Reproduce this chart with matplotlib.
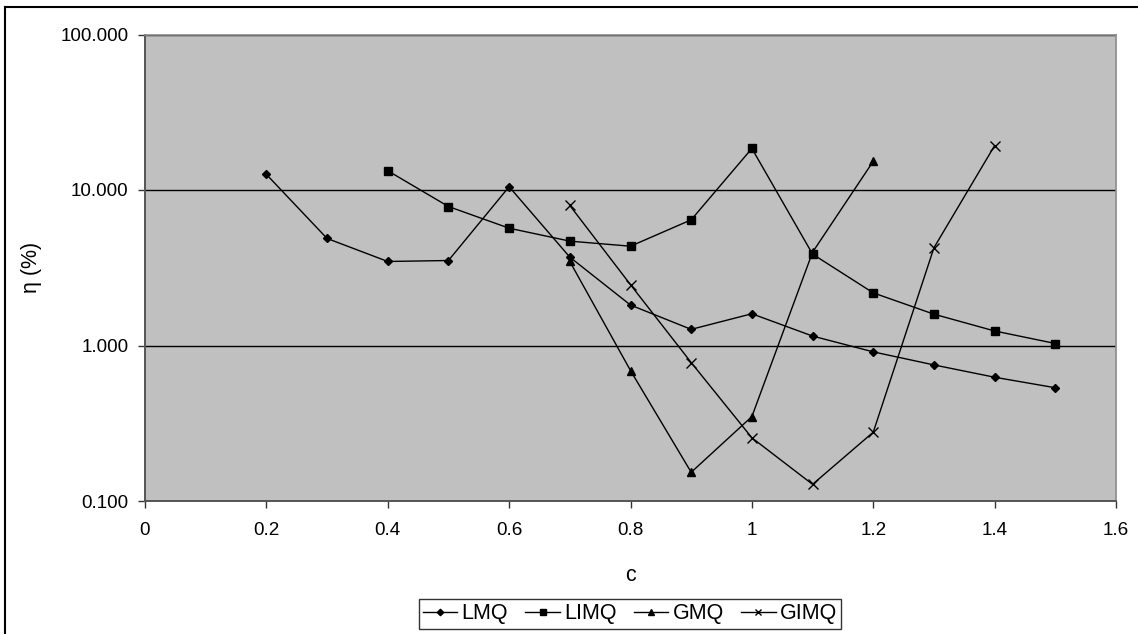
import matplotlib
matplotlib.use("Agg")
import matplotlib.pyplot as plt
from matplotlib.lines import Line2D
from matplotlib.ticker import FixedLocator, FuncFormatter, NullLocator

plt.rcParams['font.family'] = ['Liberation Sans', 'DejaVu Sans']

# Data
c_lmq = [0.2, 0.3, 0.4, 0.5, 0.6, 0.7, 0.8, 0.9, 1.0, 1.1, 1.2, 1.3, 1.4, 1.5]
lmq = [12.6, 4.88, 3.47, 3.52, 10.5, 3.70, 1.82, 1.27, 1.60, 1.15, 0.91, 0.75, 0.625, 0.535]

c_limq = [0.4, 0.5, 0.6, 0.7, 0.8, 0.9, 1.0, 1.1, 1.2, 1.3, 1.4, 1.5]
limq = [13.3, 7.83, 5.68, 4.69, 4.35, 6.43, 18.5, 3.87, 2.18, 1.59, 1.24, 1.03]

c_gmq = [0.7, 0.8, 0.9, 1.0, 1.1, 1.2]
gmq = [3.47, 0.69, 0.153, 0.349, 3.98, 15.3]

c_gimq = [0.7, 0.8, 0.9, 1.0, 1.1, 1.2, 1.3, 1.4]
gimq = [7.95, 2.46, 0.777, 0.255, 0.128, 0.277, 4.25, 19.3]

x_ticks = [0, 0.2, 0.4, 0.6, 0.8, 1.0, 1.2, 1.4, 1.6]
y_ticks = [0.1, 1, 10, 100]

W, H = 1138, 634
fig = plt.figure(figsize=(W / 100, H / 100), dpi=100)
ax = fig.add_axes([145 / W, 1 - 501 / H, (1116 - 145) / W, (501 - 34.5) / H])
ax.set_facecolor('#C0C0C0')

lw = 1.0
ax.plot(c_lmq, lmq, color='black', lw=lw, marker='D', ms=4.4, label='LMQ', zorder=3)
ax.plot(c_limq, limq, color='black', lw=lw, marker='s', ms=5.4, label='LIMQ', zorder=3)
ax.plot(c_gmq, gmq, color='black', lw=lw, marker='^', ms=6.2, label='GMQ', zorder=3)
ax.plot(c_gimq, gimq, color='black', lw=lw, marker='x', ms=6.5, mew=1.0, label='GIMQ', zorder=3)

ax.set_yscale('log')
ax.set_xlim(0, 1.6)
ax.set_ylim(0.1, 100)
ax.xaxis.set_major_locator(FixedLocator(x_ticks))
ax.xaxis.set_major_formatter(FuncFormatter(lambda v, p: f"{v:g}"))
ax.yaxis.set_major_locator(FixedLocator(y_ticks))
ax.yaxis.set_major_formatter(FuncFormatter(lambda v, p: f"{v:.3f}"))
ax.yaxis.set_minor_locator(NullLocator())
ax.xaxis.set_minor_locator(NullLocator())

ax.grid(True, axis='y', which='major', color='black', lw=1.0, zorder=1)
ax.set_axisbelow(True)

for s in ['left', 'bottom']:
    ax.spines[s].set_color('#555555')
    ax.spines[s].set_linewidth(1.4)
for s in ['top', 'right']:
    ax.spines[s].set_color('#8a8a8a')
    ax.spines[s].set_linewidth(1.2)

ax.tick_params(axis='both', direction='out', length=5, width=1, color='#333333',
               labelsize=13.6, labelcolor='black')
ax.tick_params(axis='x', pad=10)
ax.tick_params(axis='y', pad=7)

ax.set_xlabel('c', fontsize=15.5)
ax.set_ylabel('η (%)', fontsize=15.5)
ax.xaxis.set_label_coords(0.5, (501 - 565) / (501 - 34.5))
ax.yaxis.set_label_coords((41.7 - 145) / (1116 - 145), 0.5)

leg = fig.legend(loc='center', bbox_to_anchor=(630 / W, 1 - 614 / H),
                 ncol=4, frameon=True, fancybox=False, fontsize=15.5,
                 handlelength=1.6, handletextpad=0.2, columnspacing=0.8,
                 borderpad=0.2, edgecolor='black', borderaxespad=0,
                 markerscale=0.75)
leg.get_frame().set_linewidth(1.0)

# Outer border (top and left visible)
fig.add_artist(Line2D([5 / W, 1], [1 - 7 / H, 1 - 7 / H], transform=fig.transFigure,
                      color='black', lw=1.5))
fig.add_artist(Line2D([5 / W, 5 / W], [0, 1 - 7 / H], transform=fig.transFigure,
                      color='black', lw=1.5))

fig.savefig('out.png', dpi=100)
